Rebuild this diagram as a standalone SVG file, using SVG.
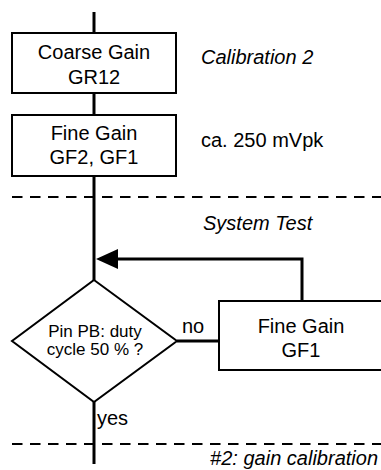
<svg xmlns="http://www.w3.org/2000/svg" width="381" height="470" viewBox="0 0 381 470">
<defs>
<style>
.box{fill:#fff;stroke:#000;stroke-width:2}
.ln{fill:none;stroke:#000;stroke-width:3}
.dash{fill:none;stroke:#000;stroke-width:2;stroke-dasharray:10.5 7.5}
.t{font-family:"Liberation Sans",Arial,sans-serif;font-size:20px;fill:#000}
.s{font-family:"Liberation Sans",Arial,sans-serif;font-size:17px;fill:#000}
.i{font-style:italic}
.c{text-anchor:middle}
</style>
</defs>
<rect width="381" height="470" fill="#fff"/>
<g id="dividers">
<line class="dash" x1="12" y1="197" x2="381" y2="197"/>
<line class="dash" x1="12" y1="444" x2="381" y2="444"/>
</g>
<g id="connectors">
<line class="ln" x1="94" y1="12" x2="94" y2="33"/>
<line class="ln" x1="94" y1="93" x2="94" y2="115"/>
<line class="ln" x1="94" y1="176" x2="94" y2="280"/>
<line class="ln" x1="94" y1="402" x2="94" y2="464"/>
<line class="ln" x1="177" y1="341" x2="219" y2="341"/>
<polyline class="ln" points="302,301 302,259 116,259"/>
<polygon points="96,259 118,249 118,269" fill="#000"/>
</g>
<g id="coarse">
<rect class="box" x="12" y="33" width="164" height="60"/>
<text class="t c" x="94" y="59">Coarse Gain</text>
<text class="t c" x="94" y="84">GR12</text>
</g>
<g id="fine1">
<rect class="box" x="12" y="115" width="164" height="61"/>
<text class="t c" x="94" y="140">Fine Gain</text>
<text class="t c" x="94" y="164">GF2, GF1</text>
</g>
<g id="decision">
<polygon class="box" points="94,280 177,341 94,402 12,341"/>
<text class="s c" x="95" y="337">Pin PB: duty</text>
<text class="s c" x="95" y="355">cycle 50 % ?</text>
</g>
<g id="finegf1">
<rect class="box" x="219" y="301" width="170" height="69"/>
<text class="t c" x="301" y="333">Fine Gain</text>
<text class="t c" x="301" y="357">GF1</text>
</g>
<g id="labels">
<text class="t i" x="201" y="64">Calibration 2</text>
<text class="t" x="201" y="147">ca. 250 mVpk</text>
<text class="t i" x="203" y="230">System Test</text>
<text class="t" x="182" y="333">no</text>
<text class="t" x="97" y="425">yes</text>
<text class="t i" x="378" y="465" text-anchor="end">#2: gain calibration</text>
</g>
</svg>
